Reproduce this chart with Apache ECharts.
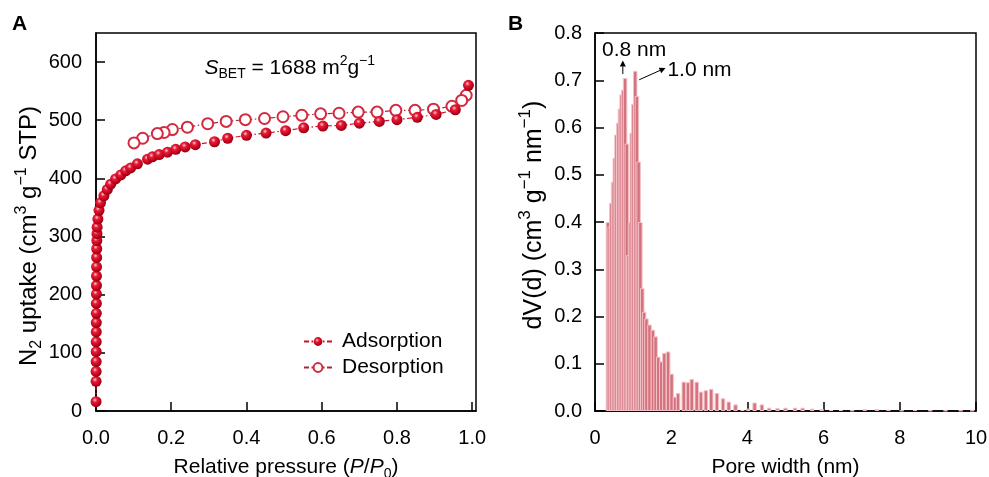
<!DOCTYPE html>
<html><head><meta charset="utf-8">
<script src="https://cdn.jsdelivr.net/npm/echarts@6/dist/echarts.min.js"></script>
<style>html,body{margin:0;padding:0;background:#fff}#c{width:989px;height:477px}</style>
</head><body><div id="c"></div>
<script>
// ---- Panel A: N2 isotherm ----
const adsP = [0.0001,0.0002,0.0003,0.0004,0.0005,0.0006,0.0007,0.0008,0.0009,0.001,0.0011,0.0012,0.0013,0.0015,0.0017,0.0019,0.0022,0.0026,0.003,0.005,0.008,0.012,0.021,0.03,0.039,0.052,0.066,0.079,0.092,0.11,0.137,0.15,0.168,0.19,0.212,0.237,0.264,0.315,0.35,0.40,0.452,0.504,0.552,0.603,0.652,0.70,0.753,0.80,0.854,0.904,0.955,0.99];
const adsV = [16,51,68,85,102,119,136,152,168,185,201,216,232,248,264,279,293,305,316,330,345,358,370,381,390,399,406,413,418,425,433,437,441,445,450,454,458,463,469,474,478,482,487,490,491,495,498,501,505,510,518,560];
const desP = [0.984,0.972,0.946,0.897,0.848,0.797,0.747,0.697,0.646,0.597,0.547,0.497,0.448,0.397,0.346,0.297,0.243,0.203,0.181,0.163,0.124,0.101];
const desV = [543,534,524,519,517,517,514,514,512,511,508.5,506,503,501,498,494,488,484,479,477,469,461];
const seriesNames = ['Adsorption','Desorption'];
// ---- Panel B: pore size distribution ----
const poreWidth = [0.34,0.385,0.43,0.475,0.52,0.565,0.61,0.655,0.70,0.745,0.79,0.835,0.875,0.92,0.965,1.01,1.055,1.10,1.145,1.19,1.24,1.29,1.35,1.43,1.52,1.59,1.66,1.74,1.82,1.92,2.01,2.10,2.18,2.33,2.44,2.54,2.67,2.78,2.91,3.05,3.20,3.36,3.51,3.69,3.87,4.02,4.19,4.38,4.57,4.79,5.00,5.25,5.45,5.70,5.95,6.20,6.45,6.75,7.08,7.40,7.70,8.05,8.40,8.80,9.20,9.60,9.90];
const dVd = [0.40,0.39,0.44,0.485,0.536,0.585,0.61,0.64,0.67,0.68,0.705,0.566,0.33,0.40,0.589,0.65,0.72,0.667,0.528,0.40,0.26,0.21,0.196,0.183,0.172,0.158,0.115,0.105,0.123,0.126,0.079,0.030,0.038,0.062,0.061,0.068,0.062,0.041,0.044,0.047,0.038,0.027,0.020,0.014,0.002,0.005,0.018,0.014,0.007,0.006,0.007,0.007,0.007,0.005,0.004,0.002,0.002,0.001,0.004,0.004,0.003,0.001,0.002,0.001,0.001,0.001,0.001];

const FONT = '"Liberation Sans", Arial, sans-serif';
const chart = echarts.init(document.getElementById('c'));

function rich(fs) {
  const s = Math.round(fs * 0.66);
  return {
    sup: {fontSize: s, lineHeight: Math.round(fs * 0.55), verticalAlign: 'top', fontFamily: FONT, color: '#000'},
    sub: {fontSize: s, lineHeight: Math.round(fs * 0.55), verticalAlign: 'bottom', fontFamily: FONT, color: '#000'},
    i: {fontSize: fs, fontStyle: 'italic', fontFamily: FONT, color: '#000'}
  };
}
function axis(extra, fs, pad) {
  return Object.assign({
    type: 'value',
    axisLine: {show: true, onZero: false, lineStyle: {color: '#000', width: 1.5}},
    axisTick: {show: true, inside: true, length: 9, lineStyle: {color: '#000', width: 1.5}},
    splitLine: {show: false},
    nameLocation: 'middle',
    nameTextStyle: {color: '#000', fontSize: fs, fontFamily: FONT, lineHeight: Math.round(fs * 1.3), rich: rich(fs), padding: pad || 0}
  }, extra);
}
function label(extra) {
  return Object.assign({color: '#000', fontSize: 20, fontFamily: FONT}, extra);
}

const sphere = {type: 'radial', x: 0.4, y: 0.35, r: 0.65, colorStops: [
  {offset: 0, color: '#ffd0d6'}, {offset: 0.3, color: '#e6203a'}, {offset: 0.75, color: '#c4001c'}, {offset: 1, color: '#8c0012'}]};

const gridCommon = {show: true, borderColor: '#000', borderWidth: 1.5, containLabel: false, outerBoundsMode: 'none'};
const option = {
  animation: false,
  backgroundColor: '#fff',
  grid: [
    Object.assign({left: 96, top: 33, width: 380, height: 378}, gridCommon),
    Object.assign({left: 595, top: 33, width: 381, height: 378}, gridCommon)
  ],
  xAxis: [
    axis({gridIndex: 0, min: 0, max: 1.01, interval: 0.2, name: 'Relative pressure ({i|P}/{i|P}{sub|0})', nameGap: 43,
      axisLabel: label({margin: 17, showMaxLabel: false, formatter: v => v.toFixed(1)})}, 21),
    axis({gridIndex: 1, min: 0, max: 10, interval: 2, name: 'Pore width (nm)', nameGap: 43,
      axisLabel: label({margin: 17})}, 21)
  ],
  yAxis: [
    axis({gridIndex: 0, min: 0, max: 650, interval: 100, name: 'N{sub|2} uptake (cm{sup|3} g{sup|−1} STP)', nameGap: 47,
      axisLabel: label({margin: 14, showMaxLabel: false})}, 24, [0, 28, 0, 0]),
    axis({gridIndex: 1, min: 0, max: 0.8, interval: 0.1, name: 'dV(d) (cm{sup|3} g{sup|−1} nm{sup|−1})', nameGap: 42,
      axisLabel: label({margin: 13, formatter: v => v.toFixed(1)})}, 25, [0, 0, 0, 14])
  ],
  legend: {
    data: seriesNames, left: 298, top: 326, orient: 'vertical', itemWidth: 28, itemHeight: 11, itemGap: 5,
    textStyle: {color: '#000', fontSize: 21, fontFamily: FONT, padding: [0, 0, 0, 5]}
  },
  series: [
    {
      name: seriesNames[1], type: 'line', xAxisIndex: 0, yAxisIndex: 0,
      data: desP.map((p, i) => [p, desV[i]]),
      symbol: 'emptyCircle', symbolSize: 11,
      itemStyle: {color: '#d42a40', borderWidth: 1.2},
      lineStyle: {color: '#a8283a', width: 1.2, type: [5, 2.5, 1.5, 2.5]}
    },
    {
      name: seriesNames[0], type: 'line', xAxisIndex: 0, yAxisIndex: 0,
      data: adsP.map((p, i) => [p, adsV[i]]),
      symbol: 'circle', symbolSize: 11,
      itemStyle: {color: sphere},
      lineStyle: {color: '#d0102a', width: 1.2, type: [5, 2.5, 1.5, 2.5]}
    },
    {
      type: 'bar', xAxisIndex: 1, yAxisIndex: 1, barWidth: 4.5,
      data: poreWidth.map((w, i) => [w, dVd[i]]),
      itemStyle: {color: '#d4737e', borderColor: '#f3c3c8', borderWidth: 1}
    }
  ]
};
chart.setOption(option);

function P(g, x, y) { return chart.convertToPixel({gridIndex: g}, [x, y]); }
function arrow(p0, p1) {
  const dx = p1[0] - p0[0], dy = p1[1] - p0[1];
  const L = Math.sqrt(dx * dx + dy * dy), ux = dx / L, uy = dy / L;
  const h = 6, w = 3;
  const bx = p1[0] - ux * h, by = p1[1] - uy * h;
  return [
    {type: 'line', shape: {x1: p0[0], y1: p0[1], x2: bx, y2: by}, style: {stroke: '#000', lineWidth: 1}},
    {type: 'polygon', shape: {points: [[p1[0], p1[1]], [bx - uy * w, by + ux * w], [bx + uy * w, by - ux * w]]}, style: {fill: '#000'}}
  ];
}
const sb = P(0, 0.515, 590);
const t08 = P(1, 0.185, 0.764), t10 = P(1, 1.9, 0.722);
const graphics = [
  {type: 'text', left: 12, top: 14, style: {text: 'A', font: 'bold 21px ' + FONT, fill: '#000'}},
  {type: 'text', left: 508, top: 14, style: {text: 'B', font: 'bold 21px ' + FONT, fill: '#000'}},
  {type: 'text', x: sb[0], y: sb[1], style: {
    text: '{it|S}{sb|BET} = 1688 m{sp|2}g{sp|−1}', align: 'center', verticalAlign: 'middle',
    fontSize: 21, fontFamily: FONT, fill: '#000', lineHeight: 27,
    rich: {
      it: {fontSize: 21, fontStyle: 'italic', fontFamily: FONT, fill: '#000'},
      sb: {fontSize: 14, lineHeight: 12, verticalAlign: 'bottom', fontFamily: FONT, fill: '#000'},
      sp: {fontSize: 14, lineHeight: 12, verticalAlign: 'top', fontFamily: FONT, fill: '#000'}
    }}},
  {type: 'text', x: t08[0], y: t08[1], style: {text: '0.8 nm', fontSize: 21, fontFamily: FONT, fill: '#000', verticalAlign: 'middle'}},
  {type: 'text', x: t10[0], y: t10[1], style: {text: '1.0 nm', fontSize: 21, fontFamily: FONT, fill: '#000', verticalAlign: 'middle'}}
].concat(arrow(P(1, 0.73, 0.713), P(1, 0.73, 0.742)), arrow(P(1, 1.16, 0.701), P(1, 1.85, 0.726)));
chart.setOption({graphic: graphics});
</script></body></html>
